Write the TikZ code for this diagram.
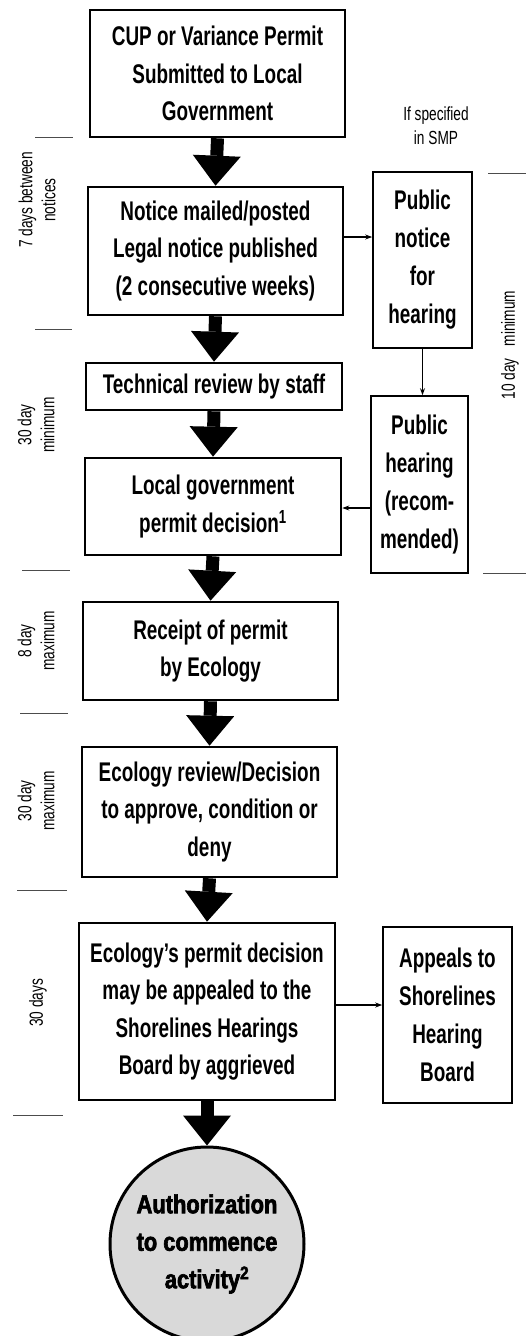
\documentclass[tikz,border=0pt]{standalone}
\usepackage{fontspec}
\setmainfont{Liberation Sans}
% condensed faces for box texts, period labels and the final step
\newfontfamily\boxfont{Liberation Sans Bold}[FakeStretch=0.7]
\newfontfamily\labelfont{Liberation Sans}[FakeStretch=0.72]
\newfontfamily\heavyfont{Liberation Sans Bold}[FakeStretch=0.84,FakeBold=2.5]
\usetikzlibrary{arrows.meta,calc}

\begin{document}
\begin{tikzpicture}[x=1pt,y=-1pt,
  stepbox/.style={draw, line width=2.6pt, align=center, inner sep=0pt,
    font=\boxfont\fontsize{27}{37.5}\selectfont},
  sidebox/.style={draw, line width=1.6pt, align=center, inner sep=0pt,
    font=\boxfont\fontsize{27}{38}\selectfont},
  bigarrow/.style={line width=13pt,
    -{Triangle[width=48pt,length=30pt,line width=0pt]}},
  thinarrow/.style={line width=1.3pt, -{Stealth[length=7pt,width=5pt]}},
  period/.style={font=\labelfont\fontsize{19}{23}\selectfont, align=center,
    rotate=90, inner sep=0pt},
  tick/.style={line width=1pt, black!70}
]
\useasboundingbox (0,0) rectangle (526,1336);
\clip (0,0) rectangle (526,1336);

% main sequence of steps
\node[stepbox, minimum width=255pt, minimum height=127pt] (b1) at (217.5,73.5)
  {CUP or Variance Permit\\Submitted to Local\\Government};
\node[stepbox, minimum width=255pt, minimum height=128pt] (b2) at (215.5,251)
  {Notice mailed/posted\\Legal notice published\\(2 consecutive weeks)};
\node[stepbox, minimum width=256pt, minimum height=47pt] (b3) at (214,386.5)
  {Technical review by staff};
\node[stepbox, minimum width=256pt, minimum height=97pt] (b4) at (213,506.5)
  {Local government\\permit decision\textsuperscript{1}};
\node[stepbox, minimum width=255pt, minimum height=98pt] (b5) at (210.5,651)
  {Receipt of permit\\by Ecology};
\node[stepbox, minimum width=255pt, minimum height=130pt] (b6) at (209.5,812)
  {Ecology review/Decision\\to approve, condition or\\deny};
\node[stepbox, minimum width=256pt, minimum height=177pt] (b7) at (207,1011.5)
  {Ecology’s permit decision\\may be appealed to the\\Shorelines Hearings\\Board by aggrieved};

% side steps
\node[font=\labelfont\fontsize{19}{24}\selectfont, align=center, inner sep=0pt] (smp) at (436,126)
  {If specified\\in SMP};
\node[sidebox, minimum width=99pt, minimum height=176pt] (pn) at (422.5,260)
  {Public\\notice\\for\\hearing};
\node[sidebox, minimum width=97pt, minimum height=177pt] (ph) at (419.5,484.5)
  {Public\\hearing\\(recom-\\mended)};
\node[sidebox, minimum width=129pt, minimum height=176pt] (ap) at (447.5,1015)
  {Appeals to\\Shorelines\\Hearing\\Board};

% final outcome
\node[circle, draw, line width=3pt, fill=gray!30, minimum size=194pt, inner sep=0pt,
  align=center, font=\heavyfont\fontsize{26}{37.5}\selectfont] (auth) at (207,1244)
  {Authorization\\to commence\\activity\textsuperscript{2}};

% flow arrows
\draw[bigarrow] (b1.south) -- (b2.north);
\draw[bigarrow] (b2.south) -- (b3.north);
\draw[bigarrow] (b3.south) -- (b4.north);
\draw[bigarrow] (b4.south) -- (b5.north);
\draw[bigarrow] (b5.south) -- (b6.north);
\draw[bigarrow] (b6.south) -- (b7.north);
\draw[bigarrow] (b7.south) -- (auth.north);

\coordinate (n2) at ($(b2.east)+(0,-14)$);
\draw[thinarrow] (n2) -- (n2 -| pn.west);
\draw[thinarrow] (pn.south) -- (pn.south |- ph.north);
\coordinate (h4) at ($(ph.west)+(0,23.5)$);
\draw[thinarrow] (h4) -- (h4 -| b4.east);
\coordinate (a7) at ($(b7.east)+(0,-6.5)$);
\draw[thinarrow] (a7) -- (a7 -| ap.west);

% time periods
\draw[tick] (35,137) -- (73,137);
\draw[tick] (35,329) -- (72,329);
\draw[tick] (22,570) -- (70,570);
\draw[tick] (20,713) -- (68,713);
\draw[tick] (17,890) -- (67,890);
\draw[tick] (13,1115) -- (63,1115);
\draw[tick] (488,173) -- (526,173);
\draw[tick] (483,573) -- (526,573);

\node[period] (p1) at (37,200) {7 days between\\notices};
\node[period] (p2) at (36,425) {30 day\\minimum};
\node[period] (p3) at (36,641) {8 day\\maximum};
\node[period] (p4) at (36,801) {30 day\\maximum};
\node[period] (p5) at (38,1003) {30 days};
\node[period] (p6) at (510,345) {10 day\hspace{12pt}minimum};
\end{tikzpicture}
\end{document}
